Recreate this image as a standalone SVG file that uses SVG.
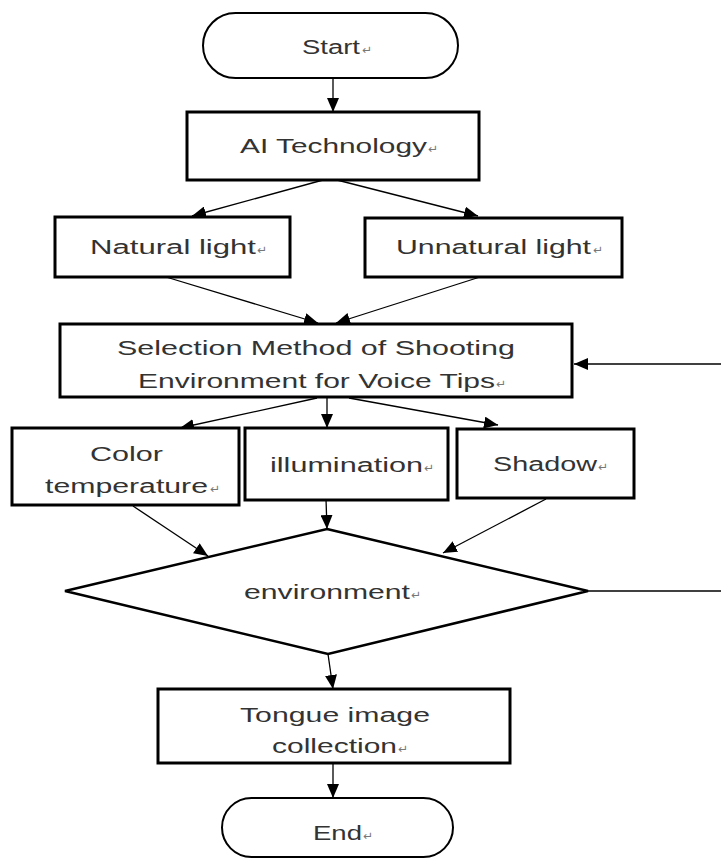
<svg xmlns="http://www.w3.org/2000/svg" width="721" height="861" viewBox="0 0 721 861">
<defs>
<marker id="ah" markerUnits="userSpaceOnUse" markerWidth="14" markerHeight="12" refX="14" refY="6" orient="auto">
<path d="M0,0 L14,6 L0,12 z" fill="#000"/>
</marker>
<style>
.box{fill:#fff;stroke:#000;stroke-width:3}
.term{fill:#fff;stroke:#000;stroke-width:2}
.dia{fill:#fff;stroke:#000;stroke-width:2.5}
.t{font-family:"Liberation Sans",Arial,sans-serif;font-size:20px;fill:#333}
.p{font-family:"DejaVu Sans",sans-serif;font-size:12px;fill:#777}
.c{fill:none;stroke:#000;stroke-width:1.3}
.ca{fill:none;stroke:#000;stroke-width:1.3;marker-end:url(#ah)}
</style>
</defs>
<rect width="721" height="861" fill="#fff"/>
<g id="connectors">
<line class="ca" x1="333" y1="78" x2="333" y2="112"/>
<line class="ca" x1="323" y1="180" x2="192" y2="216"/>
<line class="ca" x1="337" y1="180" x2="478" y2="216"/>
<line class="ca" x1="166" y1="277" x2="318" y2="323"/>
<line class="ca" x1="480" y1="277" x2="336" y2="323"/>
<line class="ca" x1="317" y1="398" x2="180" y2="428"/>
<line class="ca" x1="327" y1="398" x2="327" y2="428"/>
<line class="ca" x1="349" y1="398" x2="498" y2="425"/>
<line class="ca" x1="133" y1="506" x2="208" y2="556"/>
<line class="ca" x1="326" y1="499" x2="327" y2="529"/>
<line class="ca" x1="546" y1="499" x2="443" y2="553"/>
<line class="ca" x1="328" y1="654" x2="333" y2="689"/>
<line class="ca" x1="333" y1="763" x2="333" y2="798"/>
<line class="c" x1="588" y1="591" x2="721" y2="591"/>
<line class="ca" x1="721" y1="364" x2="574" y2="364"/>
</g>
<g id="start">
<rect class="term" x="203" y="13" width="255" height="65" rx="32.5" ry="32.5"/>
<text class="t" x="302" y="54" textLength="58" lengthAdjust="spacingAndGlyphs">Start</text>
<text class="p" x="362" y="54">↵</text>
</g>
<g id="ai">
<rect class="box" x="187" y="112" width="292" height="68"/>
<text class="t" x="240" y="153" textLength="187" lengthAdjust="spacingAndGlyphs">AI Technology</text>
<text class="p" x="428" y="153">↵</text>
</g>
<g id="natural">
<rect class="box" x="55" y="217" width="235" height="60"/>
<text class="t" x="90" y="254" textLength="166" lengthAdjust="spacingAndGlyphs">Natural light</text>
<text class="p" x="257" y="254">↵</text>
</g>
<g id="unnatural">
<rect class="box" x="365" y="218" width="257" height="59"/>
<text class="t" x="396" y="254" textLength="195" lengthAdjust="spacingAndGlyphs">Unnatural light</text>
<text class="p" x="593" y="254">↵</text>
</g>
<g id="selection">
<rect class="box" x="60" y="324" width="512" height="73"/>
<text class="t" x="117" y="355" textLength="398" lengthAdjust="spacingAndGlyphs">Selection Method of Shooting</text>
<text class="t" x="138" y="388" textLength="357" lengthAdjust="spacingAndGlyphs">Environment for Voice Tips</text>
<text class="p" x="496" y="388">↵</text>
</g>
<g id="colortemp">
<rect class="box" x="12" y="428" width="227" height="77"/>
<text class="t" x="90" y="461" textLength="73" lengthAdjust="spacingAndGlyphs">Color</text>
<text class="t" x="45" y="493" textLength="163" lengthAdjust="spacingAndGlyphs">temperature</text>
<text class="p" x="210" y="493">↵</text>
</g>
<g id="illumination">
<rect class="box" x="245" y="428" width="203" height="72"/>
<text class="t" x="270" y="472" textLength="153" lengthAdjust="spacingAndGlyphs">illumination</text>
<text class="p" x="424" y="472">↵</text>
</g>
<g id="shadow">
<rect class="box" x="457" y="429" width="177" height="69"/>
<text class="t" x="493" y="471" textLength="104" lengthAdjust="spacingAndGlyphs">Shadow</text>
<text class="p" x="598" y="471">↵</text>
</g>
<g id="environment">
<polygon class="dia" points="327,529 588,591 328,654 65,591"/>
<text class="t" x="244" y="599" textLength="166" lengthAdjust="spacingAndGlyphs">environment</text>
<text class="p" x="411" y="599">↵</text>
</g>
<g id="tongue">
<rect class="box" x="158" y="689" width="352" height="74"/>
<text class="t" x="240" y="722" textLength="190" lengthAdjust="spacingAndGlyphs">Tongue image</text>
<text class="t" x="272" y="753" textLength="125" lengthAdjust="spacingAndGlyphs">collection</text>
<text class="p" x="398" y="753">↵</text>
</g>
<g id="end">
<rect class="term" x="222" y="798" width="231" height="59" rx="29.5" ry="29.5"/>
<text class="t" x="313" y="840" textLength="49" lengthAdjust="spacingAndGlyphs">End</text>
<text class="p" x="363" y="840">↵</text>
</g>
</svg>
